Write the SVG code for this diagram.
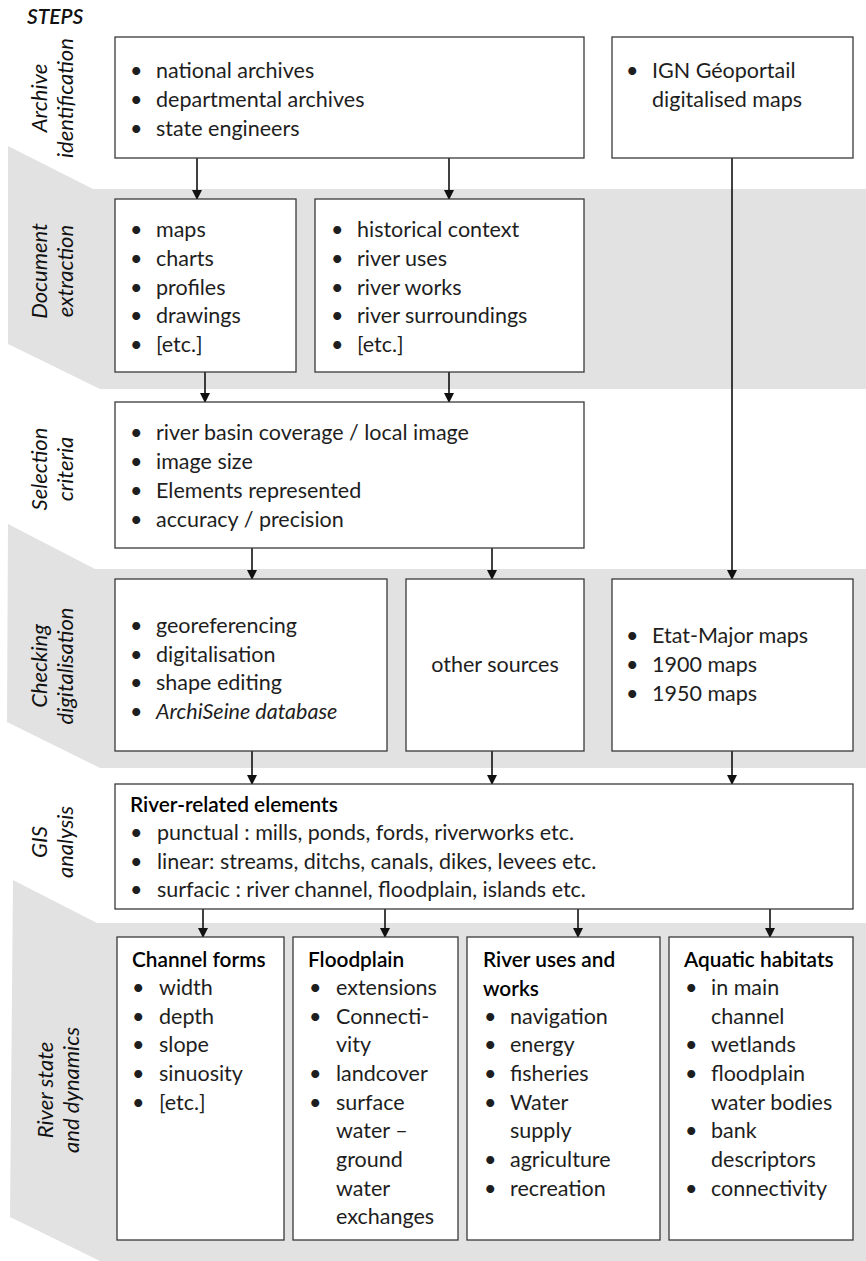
<svg xmlns="http://www.w3.org/2000/svg" width="866" height="1261" viewBox="0 0 866 1261">
<defs>
<style>
.band{fill:#e1e2e1;stroke:none}
.box{fill:#fff;stroke:#3a3a3a;stroke-width:1.3}
.t{font-family:Lato,"Liberation Sans",sans-serif;font-size:21.5px;fill:#1e1e1e}
.h{font-family:Lato,"Liberation Sans",sans-serif;font-size:20.8px;fill:#000;font-weight:600}
.lab{font-family:Lato,"Liberation Sans",sans-serif;font-size:22px;font-style:italic;fill:#111;text-anchor:middle}
.it{font-style:italic}
.conn line{stroke:#111;stroke-width:1.6}
</style>
<marker id="ah" markerWidth="10" markerHeight="10" refX="9" refY="5" orient="auto" markerUnits="userSpaceOnUse">
<path d="M0,0 L10,5 L0,10 Z" fill="#111"/>
</marker>
</defs>
<rect width="866" height="1261" fill="#fff"/>
<g id="bands">
<polygon class="band" points="8,146 93,189 866,189 866,389 100,389 8,344"/>
<polygon class="band" points="8,524 95,569 866,569 866,768 100,768 7,722"/>
<polygon class="band" points="13,880 97,923 866,923 866,1261 100,1261 10,1217"/>
</g>
<g id="labels">
<text class="lab" x="27" y="24" style="font-weight:600;text-anchor:start;font-size:21px">STEPS</text>
<text class="lab" transform="translate(47,98) rotate(-90)"><tspan x="0" y="0">Archive</tspan><tspan x="0" y="26">identification</tspan></text>
<text class="lab" transform="translate(47,271) rotate(-90)"><tspan x="0" y="0">Document</tspan><tspan x="0" y="26">extraction</tspan></text>
<text class="lab" transform="translate(47,469) rotate(-90)"><tspan x="0" y="0">Selection</tspan><tspan x="0" y="26">criteria</tspan></text>
<text class="lab" transform="translate(47,666) rotate(-90)"><tspan x="0" y="0">Checking</tspan><tspan x="0" y="26">digitalisation</tspan></text>
<text class="lab" transform="translate(47,842) rotate(-90)"><tspan x="0" y="0">GIS</tspan><tspan x="0" y="26">analysis</tspan></text>
<text class="lab" transform="translate(53,1090) rotate(-90)"><tspan x="0" y="0">River state</tspan><tspan x="0" y="26">and dynamics</tspan></text>
</g>
<g id="conn" class="conn">
<line x1="197" y1="158" x2="197" y2="199" marker-end="url(#ah)"/>
<line x1="449" y1="158" x2="449" y2="199" marker-end="url(#ah)"/>
<line x1="205" y1="372" x2="205" y2="402" marker-end="url(#ah)"/>
<line x1="449" y1="372" x2="449" y2="402" marker-end="url(#ah)"/>
<line x1="252" y1="548" x2="252" y2="579" marker-end="url(#ah)"/>
<line x1="492" y1="548" x2="492" y2="579" marker-end="url(#ah)"/>
<line x1="732" y1="158" x2="732" y2="579" marker-end="url(#ah)"/>
<line x1="252" y1="751" x2="252" y2="784" marker-end="url(#ah)"/>
<line x1="492" y1="751" x2="492" y2="784" marker-end="url(#ah)"/>
<line x1="732" y1="751" x2="732" y2="784" marker-end="url(#ah)"/>
<line x1="203" y1="909" x2="203" y2="937" marker-end="url(#ah)"/>
<line x1="385" y1="909" x2="385" y2="937" marker-end="url(#ah)"/>
<line x1="578" y1="909" x2="578" y2="937" marker-end="url(#ah)"/>
<line x1="770" y1="909" x2="770" y2="937" marker-end="url(#ah)"/>
</g>
<g id="archives">
<rect class="box" x="115" y="37" width="469" height="121"/>
<text class="t"><tspan x="130" y="78">•</tspan><tspan x="156" y="78">national archives</tspan><tspan x="130" y="107">•</tspan><tspan x="156" y="107">departmental archives</tspan><tspan x="130" y="136">•</tspan><tspan x="156" y="136">state engineers</tspan></text>
</g>
<g id="ign">
<rect class="box" x="612" y="37" width="241" height="121"/>
<text class="t"><tspan x="626" y="78">•</tspan><tspan x="652" y="78">IGN Géoportail</tspan><tspan x="652" y="107">digitalised maps</tspan></text>
</g>
<g id="docs1">
<rect class="box" x="115" y="199" width="181" height="173"/>
<text class="t"><tspan x="130" y="237">•</tspan><tspan x="156" y="237">maps</tspan><tspan x="130" y="266">•</tspan><tspan x="156" y="266">charts</tspan><tspan x="130" y="295">•</tspan><tspan x="156" y="295">profiles</tspan><tspan x="130" y="323">•</tspan><tspan x="156" y="323">drawings</tspan><tspan x="130" y="352">•</tspan><tspan x="156" y="352">[etc.]</tspan></text>
</g>
<g id="docs2">
<rect class="box" x="315" y="199" width="269" height="173"/>
<text class="t"><tspan x="331" y="237">•</tspan><tspan x="357" y="237">historical context</tspan><tspan x="331" y="266">•</tspan><tspan x="357" y="266">river uses</tspan><tspan x="331" y="295">•</tspan><tspan x="357" y="295">river works</tspan><tspan x="331" y="323">•</tspan><tspan x="357" y="323">river surroundings</tspan><tspan x="331" y="352">•</tspan><tspan x="357" y="352">[etc.]</tspan></text>
</g>
<g id="selection">
<rect class="box" x="115" y="402" width="469" height="146"/>
<text class="t"><tspan x="130" y="440">•</tspan><tspan x="156" y="440">river basin coverage / local image</tspan><tspan x="130" y="469">•</tspan><tspan x="156" y="469">image size</tspan><tspan x="130" y="498">•</tspan><tspan x="156" y="498">Elements represented</tspan><tspan x="130" y="527">•</tspan><tspan x="156" y="527">accuracy / precision</tspan></text>
</g>
<g id="check1">
<rect class="box" x="115" y="579" width="272" height="172"/>
<text class="t"><tspan x="130" y="633">•</tspan><tspan x="156" y="633">georeferencing</tspan><tspan x="130" y="662">•</tspan><tspan x="156" y="662">digitalisation</tspan><tspan x="130" y="690">•</tspan><tspan x="156" y="690">shape editing</tspan><tspan x="130" y="719">•</tspan><tspan x="156" y="719" class="it">ArchiSeine database</tspan></text>
</g>
<g id="check2">
<rect class="box" x="406" y="579" width="178" height="172"/>
<text class="t" x="495" y="672" text-anchor="middle">other sources</text>
</g>
<g id="check3">
<rect class="box" x="612" y="579" width="241" height="172"/>
<text class="t"><tspan x="626" y="643">•</tspan><tspan x="652" y="643">Etat-Major maps</tspan><tspan x="626" y="672">•</tspan><tspan x="652" y="672">1900 maps</tspan><tspan x="626" y="701">•</tspan><tspan x="652" y="701">1950 maps</tspan></text>
</g>
<g id="gis">
<rect class="box" x="115" y="784" width="738" height="125"/>
<text class="h" x="130" y="812">River-related elements</text>
<text class="t"><tspan x="130" y="840">•</tspan><tspan x="157" y="840">punctual : mills, ponds, fords, riverworks etc.</tspan><tspan x="130" y="869">•</tspan><tspan x="157" y="869">linear: streams, ditchs, canals, dikes, levees etc.</tspan><tspan x="130" y="897">•</tspan><tspan x="157" y="897">surfacic : river channel, floodplain, islands etc.</tspan></text>
</g>
<g id="channel">
<rect class="box" x="117" y="937" width="167" height="303"/>
<text class="h" x="132" y="967">Channel forms</text>
<text class="t"><tspan x="132" y="995">•</tspan><tspan x="159" y="995">width</tspan><tspan x="132" y="1024">•</tspan><tspan x="159" y="1024">depth</tspan><tspan x="132" y="1052">•</tspan><tspan x="159" y="1052">slope</tspan><tspan x="132" y="1081">•</tspan><tspan x="159" y="1081">sinuosity</tspan><tspan x="132" y="1110">•</tspan><tspan x="159" y="1110">[etc.]</tspan></text>
</g>
<g id="floodplain">
<rect class="box" x="293" y="937" width="165" height="303"/>
<text class="h" x="308" y="967">Floodplain</text>
<text class="t"><tspan x="309" y="995">•</tspan><tspan x="336" y="995">extensions</tspan><tspan x="309" y="1024">•</tspan><tspan x="336" y="1024">Connecti-</tspan><tspan x="336" y="1052">vity</tspan><tspan x="309" y="1081">•</tspan><tspan x="336" y="1081">landcover</tspan><tspan x="309" y="1110">•</tspan><tspan x="336" y="1110">surface</tspan><tspan x="336" y="1138">water –</tspan><tspan x="336" y="1167">ground</tspan><tspan x="336" y="1196">water</tspan><tspan x="336" y="1224">exchanges</tspan></text>
</g>
<g id="uses">
<rect class="box" x="467" y="937" width="193" height="303"/>
<text class="h"><tspan x="483" y="967">River uses and</tspan><tspan x="483" y="996">works</tspan></text>
<text class="t"><tspan x="484" y="1024">•</tspan><tspan x="510" y="1024">navigation</tspan><tspan x="484" y="1052">•</tspan><tspan x="510" y="1052">energy</tspan><tspan x="484" y="1081">•</tspan><tspan x="510" y="1081">fisheries</tspan><tspan x="484" y="1110">•</tspan><tspan x="510" y="1110">Water</tspan><tspan x="510" y="1138">supply</tspan><tspan x="484" y="1167">•</tspan><tspan x="510" y="1167">agriculture</tspan><tspan x="484" y="1196">•</tspan><tspan x="510" y="1196">recreation</tspan></text>
</g>
<g id="habitats">
<rect class="box" x="669" y="937" width="184" height="303"/>
<text class="h" x="684" y="967">Aquatic habitats</text>
<text class="t"><tspan x="685" y="995">•</tspan><tspan x="711" y="995">in main</tspan><tspan x="711" y="1024">channel</tspan><tspan x="685" y="1052">•</tspan><tspan x="711" y="1052">wetlands</tspan><tspan x="685" y="1081">•</tspan><tspan x="711" y="1081">floodplain</tspan><tspan x="711" y="1110">water bodies</tspan><tspan x="685" y="1138">•</tspan><tspan x="711" y="1138">bank</tspan><tspan x="711" y="1167">descriptors</tspan><tspan x="685" y="1196">•</tspan><tspan x="711" y="1196">connectivity</tspan></text>
</g>
</svg>
